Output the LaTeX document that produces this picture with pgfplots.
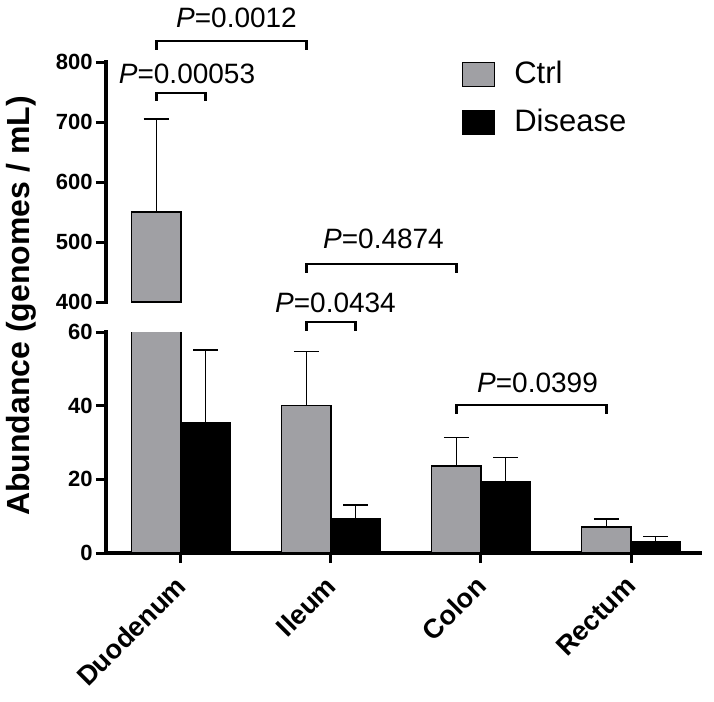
\documentclass[border=0pt]{standalone}
\usepackage{fontspec}
\setmainfont{Liberation Sans}
\usepackage{pgfplots}
\usepackage{pgfplotstable}
\pgfplotsset{compat=1.18}
\definecolor{ctrlgray}{RGB}{160,160,164}

% x: category position; ctrl bars sit at x-0.165, disease bars at x+0.165
\pgfplotstableread{
x ctrl ctrlerr dis diserr
0 550 155 35.4 19.7
1 40 14.8 9.4 3.6
2 23.6 7.7 19.3 6.6
3 7.1 2.1 3.2 1.3
}\data

\pgfplotsset{
  common/.style={
    scale only axis, width=297pt, xmin=-0.5, xmax=3.46,
    clip mode=individual,
    axis line style={-, line width=1.6pt, line cap=rect},
    tick style={line width=1.5pt, black},
    tick align=outside, major tick length=5pt,
    ytick pos=left,
    /pgf/number format/assume math mode=true,
    yticklabel style={font=\bfseries\fontsize{11}{13}\selectfont, inner sep=1.5pt},
  },
  ctrlbar/.style={ybar, bar width=24.75pt, bar shift=0pt, fill=ctrlgray, draw=black, line width=0.65pt, forget plot,
    error bars/.cd, y dir=plus, y explicit,
    error bar style={line width=0.65pt, black},
    error mark options={rotate=90, mark size=6.25pt, line width=0.65pt, black}},
  disbar/.style={ybar, bar width=24.75pt, bar shift=0pt, fill=black, draw=black, line width=0.65pt, forget plot,
    error bars/.cd, y dir=plus, y explicit,
    error bar style={line width=0.65pt, black},
    error mark options={rotate=90, mark size=6.25pt, line width=0.65pt, black}},
}
\tikzset{
  brk/.style={line width=1.3pt, line cap=rect},
  pval/.style={anchor=base, font=\fontsize{14}{16}\selectfont},
}

\begin{document}
\begin{tikzpicture}
\useasboundingbox (0pt,0pt) rectangle (357pt,-351pt);

% lower axis (0-60)
\begin{axis}[common,
  at={(53pt,-276.5pt)}, anchor=south west,
  height=110.5pt, ymin=0, ymax=60, ytick={0,20,40,60},
  axis x line*=bottom, axis y line*=left,
  xtick={0,1,2,3}, xtick pos=bottom,
  xticklabels={Duodenum,Ileum,Colon,Rectum},
  xticklabel style={xshift=-3.5pt, yshift=-4pt, rotate=45, anchor=north east, inner sep=1pt,
    font=\bfseries\fontsize{13.5}{16}\selectfont},
]
\addplot[ctrlbar] table[x expr=\thisrow{x}-0.165, y=ctrl, y error=ctrlerr] {\data};
\addplot[disbar] table[x expr=\thisrow{x}+0.165, y=dis, y error=diserr] {\data};
% brackets
\draw[brk] (0.835,76.3) -- (0.835,78.5) -- (1.835,78.5) -- (1.835,76.3);
\node[pval] at (1.35,82.8) {\textit{P}=0.4874};
\draw[brk] (0.835,60.5) -- (0.835,62.7) -- (1.165,62.7) -- (1.165,60.5);
\node[pval] at (1.03,65.4) {\textit{P}=0.0434};
\draw[brk] (1.835,38.0) -- (1.835,40.2) -- (2.835,40.2) -- (2.835,38.0);
\node[pval] at (2.377,43.7) {\textit{P}=0.0399};
\end{axis}

% upper axis (400-800)
\begin{axis}[common,
  at={(53pt,-151pt)}, anchor=south west,
  height=120pt, ymin=400, ymax=800, ytick={400,500,600,700,800},
  axis x line=none, axis y line*=left,
  xtick=\empty,
  legend image code/.code={\draw[#1] (0pt,-6.3pt) rectangle (16pt,5.7pt);},
  legend style={at={(rel axis cs:0.5993,1.004)}, anchor=north west,
    draw=none, fill=none, inner sep=0pt, outer sep=0pt,
    row sep=11pt, column sep=9.5pt,
    nodes={inner sep=0pt},
    font=\fontsize{15.5}{18}\selectfont},
  legend cell align=left,
]
\addplot[ctrlbar] coordinates {(-0.165,550) +- (0,155)};
\addlegendimage{fill=ctrlgray, draw=black, line width=0.65pt}
\addlegendentry{Ctrl}
\addlegendimage{fill=black, draw=black, line width=0.65pt}
\addlegendentry{Disease}
\draw[brk] (-0.165,821.7) -- (-0.165,835) -- (0.835,835) -- (0.835,821.7);
\node[pval] at (0.37,858.3) {\textit{P}=0.0012};
\draw[brk] (-0.165,736.7) -- (-0.165,748.3) -- (0.165,748.3) -- (0.165,736.7);
\node[pval] at (0.04,765) {\textit{P}=0.00053};
\end{axis}

\node[rotate=90, anchor=base, font=\bfseries\fontsize{16}{19}\selectfont]
  at (14.5pt,-153pt) {Abundance (genomes / mL)};
\end{tikzpicture}
\end{document}
